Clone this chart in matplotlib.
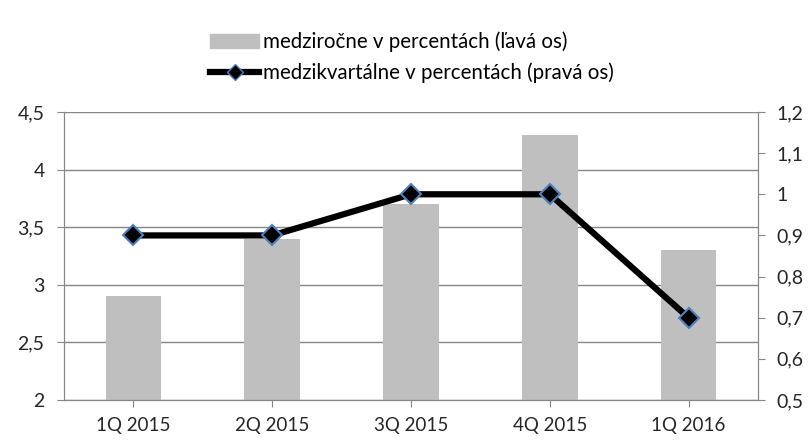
import matplotlib.pyplot as plt
from matplotlib.ticker import FuncFormatter
from matplotlib.lines import Line2D
from matplotlib.patches import Patch

plt.rcParams['font.family'] = ['Lato', 'DejaVu Sans']

quarters = ['1Q 2015', '2Q 2015', '3Q 2015', '4Q 2015', '1Q 2016']
yoy = [2.9, 3.4, 3.7, 4.3, 3.3]
qoq = [0.9, 0.9, 1.0, 1.0, 0.7]

bar_color = '#BFBFBF'
axis_gray = '#868686'


def comma(v, pos):
    s = f"{v:.1f}".rstrip('0').rstrip('.')
    return s.replace('.', ',')


fig = plt.figure(figsize=(8.12, 4.44), dpi=100)
ax = fig.add_axes([64 / 812, 44 / 444, 694 / 812, 288 / 444])
ax2 = ax.twinx()

x = range(len(quarters))
ax.bar(x, yoy, width=0.4, color=bar_color, zorder=2)
ax.set_ylim(2, 4.5)
ax.set_yticks([2, 2.5, 3, 3.5, 4, 4.5])
ax.set_xlim(-0.5, len(quarters) - 0.5)
ax.set_xticks(list(x))
ax.set_xticklabels(quarters)
ax.yaxis.set_major_formatter(FuncFormatter(comma))
ax.grid(axis='y', color=axis_gray, linewidth=1, zorder=0)
ax.set_axisbelow(True)

ax2.plot(x, qoq, color='black', linewidth=4.5, marker='D', markersize=10,
         markerfacecolor='black', markeredgecolor='#4F81BD', markeredgewidth=1.5,
         zorder=3)
ax2.set_ylim(0.5, 1.2)
ax2.set_yticks([0.5, 0.6, 0.7, 0.8, 0.9, 1.0, 1.1, 1.2])
ax2.yaxis.set_major_formatter(FuncFormatter(comma))

for a in (ax, ax2):
    a.spines['top'].set_visible(False)
    for side in ('left', 'right', 'bottom'):
        a.spines[side].set_color(axis_gray)
    a.tick_params(colors=axis_gray, labelcolor='#262626', labelsize=14,
                  length=5, direction='out')
ax.tick_params(axis='x', length=5, labelsize=13.5, pad=7)
ax.tick_params(axis='y', pad=9)
ax2.tick_params(axis='y', pad=8)

handles = [Patch(color=bar_color),
           Line2D([0], [0], color='black', linewidth=4.5, marker='D',
                  markersize=8, markerfacecolor='black',
                  markeredgecolor='#4F81BD')]
labels = ['medziročne v percentách (ľavá os)',
          'medzikvartálne v percentách (pravá os)']
fig.legend(handles, labels, loc='upper center', bbox_to_anchor=(0.507, 0.97),
           frameon=False, fontsize=14.8, handlelength=2.4, handletextpad=0.15,
           labelspacing=0.5)

fig.savefig('out.png', dpi=100)
